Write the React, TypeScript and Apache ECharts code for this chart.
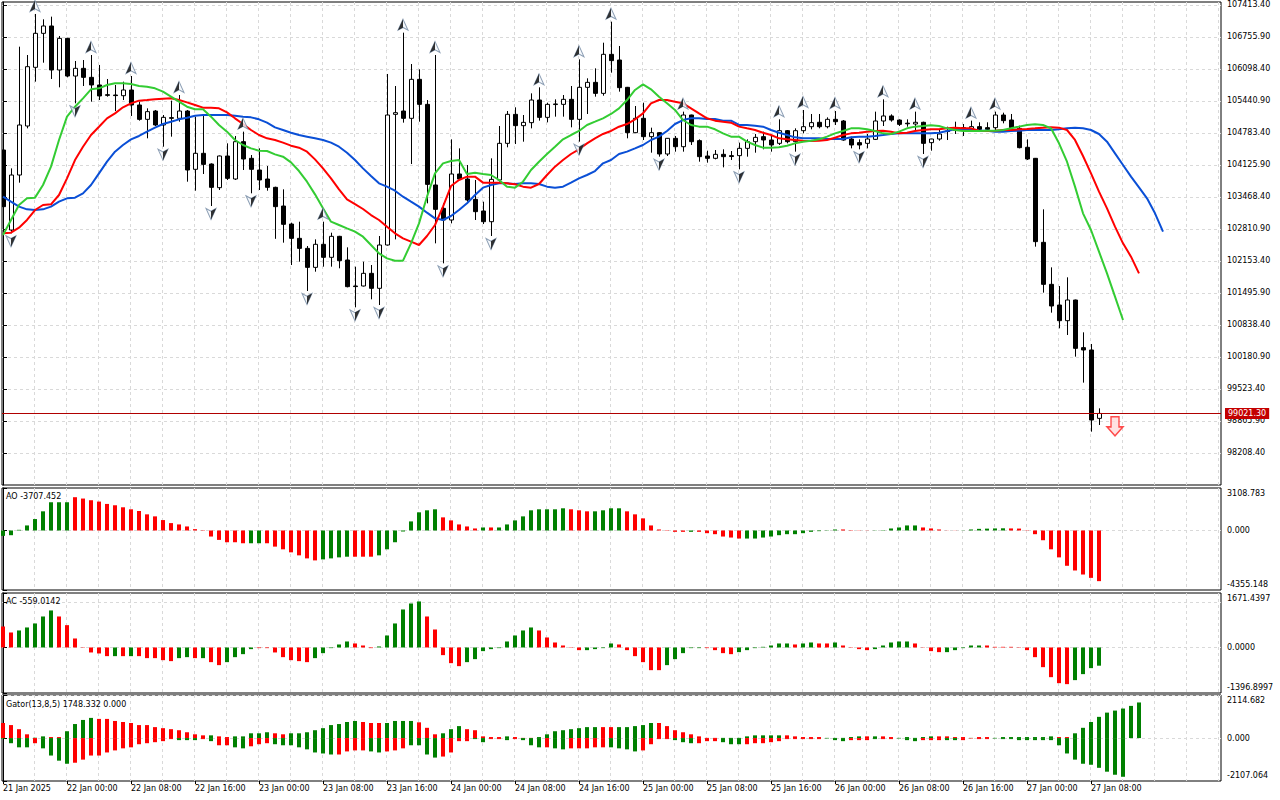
import React, { useEffect, useRef } from 'react';
import * as echarts from 'echarts';

// ---------- DATA ----------
const xLabels = ['21 Jan 2025', '22 Jan 00:00', '22 Jan 08:00', '22 Jan 16:00', '23 Jan 00:00', '23 Jan 08:00', '23 Jan 16:00', '24 Jan 00:00', '24 Jan 08:00', '24 Jan 16:00', '25 Jan 00:00', '25 Jan 08:00', '25 Jan 16:00', '26 Jan 00:00', '26 Jan 08:00', '26 Jan 16:00', '27 Jan 00:00', '27 Jan 08:00'];
const xLabelBars = [0, 8, 16, 24, 32, 40, 48, 56, 64, 72, 80, 88, 96, 104, 112, 120, 128, 136];

const opens = [104434,102790,103920,104927,106133,106831,106982,106078,106728,105954,
106112,105927,105770,105570,105564,105550,105667,105359,105064,105235,
104948,105098,105085,105235,104037,104366,104146,103660,104311,103838,
104605,104263,104023,103838,103667,103283,102913,102619,102413,102023,
102496,102229,102660,102174,101640,101640,101900,101592,102482,105167,
105235,105085,105886,105372,103715,103235,102996,103941,103838,103420,
103181,102961,103818,104571,105167,104934,104996,105461,105105,105372,
105372,105475,105064,105722,105824,105598,106400,106283,105722,104790,
105085,104708,104790,104352,104674,104502,105153,104626,104311,104263,
104345,104318,104318,104468,104605,104708,104639,104571,104831,104605,
104831,104913,105003,104913,105064,105030,104660,104585,104571,104653,
105030,105133,105050,104985,104968,105003,104585,104660,104820,104845,
104893,104872,104914,104893,104893,105153,105050,104879,104489,104263,
102537,101674,101249,100927,101352,100373,100325,98920];

const highs = [104500,104057,106557,106386,107229,107119,107174,106776,106740,106263,
106283,106386,106181,105893,105770,105838,105954,105427,105290,105256,
105153,105448,105564,105256,105119,105153,104160,104320,104571,104722,
104811,104331,104468,104105,103680,103626,102941,102961,102461,102598,
102961,102735,102670,102434,102037,102139,102071,102667,105996,105749,
106845,106201,106092,105461,106386,103338,104653,104468,104126,103818,
103372,104263,104927,105235,105311,105153,105598,105722,105406,105475,
105564,105749,106297,105907,106112,106639,107071,106571,105730,105338,
105406,104893,104800,104680,104722,105222,105160,104653,104420,104434,
104448,104413,104585,104653,104763,104811,104742,105064,104845,104879,
105256,105174,105174,105105,105235,105050,104708,104653,104763,105222,
105475,105167,105064,105064,105222,105016,104665,104845,104913,105016,
104968,105037,105003,105003,105222,105201,105174,104934,104653,104270,
103215,102023,101639,101818,101360,100688,100448,99126];

const lows = [103200,102722,103763,104879,105838,106228,105893,105722,105927,105393,
105749,105427,105461,105530,105235,105461,105133,105037,104674,104927,
104502,104708,105016,103783,103598,103941,103283,103612,103818,103818,
104023,103544,103612,103598,102609,102530,102071,102139,101537,101934,
102037,102037,102003,101612,101201,101630,101366,101249,102470,102598,
104996,104146,105016,103338,102516,102105,102927,103818,103372,102996,
102913,102667,103783,104489,104557,104605,104879,105037,105002,105119,
105119,104900,104605,105174,105530,105550,106023,105633,104674,104780,
104639,104379,104297,104311,104400,104400,104537,104194,104174,104242,
104078,104229,104037,104297,104379,104448,104400,104537,104571,104400,
104776,104859,104879,104879,104948,104626,104468,104448,104468,104639,
104927,105016,104927,104913,104845,104352,104420,104626,104639,104763,
104722,104831,104831,104831,104845,104982,104845,104468,104229,102448,
101503,101092,100770,100633,100188,99654,98647,98784];

const closes = [103270,103920,104948,106146,106831,106982,106078,106728,105954,106112,
105927,105770,105544,105560,105556,105667,105359,105064,105222,104948,
105105,105092,105235,104023,104366,104139,103667,104311,103852,104605,
104249,104037,103818,103667,103270,102907,102619,102413,102023,102496,
102229,102660,102160,101626,101632,101900,101592,102482,105153,105201,
105085,105886,105372,103728,103215,102996,103941,103838,103407,103167,
102961,103831,104571,105167,104934,105002,105461,105105,105372,105380,
105475,105064,105722,105824,105598,106400,106270,105715,104790,105085,
104708,104790,104352,104674,104502,105153,104605,104297,104263,104345,
104297,104300,104468,104605,104694,104640,104537,104831,104605,104831,
104913,104996,104913,105064,105016,104639,104537,104537,104660,105030,
105133,105050,104961,104980,105003,104571,104660,104763,104826,104848,
104890,104914,104859,104859,105153,105037,104893,104482,104249,102551,
101674,101229,100927,101352,100359,100325,98886,99021.3];

// Alligator (read per bar, shifted lines run past the last candle)
const jaw = [103475,103372,103270,103215,103201,103215,103270,103372,103441,103455,103544,103715,103955,104194,104400,104537,104653,104722,104811,104893,104968,105016,105064,105098,105139,105153,105153,105153,105153,105139,105119,105105,
105064,104996,104900,104845,104790,104742,104708,104674,104640,104585,104502,104379,104228,104057,103900,103749,103681,103598,103475,103372,103270,103146,103030,102996,103078,103201,103338,103509,103660,103715,
103749,103749,103735,103749,103749,103735,103681,103660,103681,103763,103852,103920,104002,104160,104228,104352,104400,104468,104537,104640,104708,104825,104968,105050,105085,105085,105071,105071,105037,105037,
104948,104948,104934,104914,104845,104790,104742,104694,104674,104674,104674,104660,104660,104660,104694,104708,104708,104722,104742,104763,104776,104776,104776,104776,104776,104790,104824,104859,104866,104866,
104831,104831,104811,104811,104824,104831,104845,104845,104845,104845,104859,104879,104893,104879,104845,104763,104605,104366,104126,103886,103667,103441,103133,102756];

const teeth = [102722,102735,102838,102996,103201,103304,103318,103509,103852,104228,104502,104742,104913,105085,105187,105311,105393,105448,105461,105475,105489,105496,105461,105413,105359,105304,105304,105290,105208,105085,104968,104845,
104742,104674,104640,104585,104523,104482,104400,104242,104057,103852,103626,103420,103324,103222,103098,102996,102859,102722,102619,102550,102482,102667,102893,103270,103694,103818,103886,103886,103763,103763,
103763,103749,103729,103681,103660,103735,103920,104092,104228,104352,104448,104571,104674,104763,104825,104913,104968,105064,105187,105393,105461,105461,105427,105393,105290,105187,105085,105037,105016,104996,
104914,104879,104845,104790,104742,104674,104653,104640,104626,104619,104626,104640,104687,104742,104776,104790,104811,104824,104831,104811,104776,104790,104824,104845,104859,104859,104879,104893,104879,104879,
104831,104824,104831,104845,104845,104859,104866,104879,104893,104900,104893,104845,104640,104311,103955,103578,103235,102859,102516,102242,101900];

const lips = [102687,102996,103304,103441,103455,103715,104092,104640,105119,105324,105496,105681,105701,105770,105804,105804,105790,105749,105735,105701,105632,105530,105427,105324,105270,105270,105119,104948,104811,104640,104537,104468,
104420,104413,104345,104297,104181,104002,103783,103523,103235,102961,102893,102824,102756,102653,102482,102311,102208,102160,102160,102516,102927,103475,103955,104160,104208,104228,103941,103968,103941,103920,
103818,103681,103660,103783,104023,104194,104352,104502,104653,104742,104825,104948,105016,105085,105174,105290,105461,105667,105783,105681,105530,105393,105256,105050,104948,104914,104914,104859,104776,104708,
104708,104605,104537,104482,104482,104489,104523,104571,104605,104626,104653,104708,104776,104824,104879,104879,104859,104824,104776,104763,104811,104879,104914,104927,104941,104927,104879,104845,104824,104824,
104824,104831,104831,104845,104879,104914,104948,104962,104948,104879,104571,104194,103681,103133,102790,102345,101900,101421,100941];

// Fractal bars
const fractalUp = [4, 11, 16, 22, 30, 40, 50, 54, 67, 72, 76, 85, 97, 100, 104, 110, 114, 121, 124];
const fractalDown = [1, 9, 20, 26, 31, 38, 44, 47, 55, 61, 72, 82, 92, 99, 107, 115];
const sellSignal = [[139, 98757]];

// Awesome Oscillator
const ao = [-394,-345,49,369,836,1402,2066,2066,2066,2435,
2337,2214,2116,1943,1845,1697,1550,1427,1181,1033,
763,541,443,295,98,25,-443,-689,-861,-861,
-935,-935,-935,-935,-1181,-1378,-1599,-1820,-2042,-2189,
-2116,-2042,-1968,-1919,-1919,-1919,-1919,-1820,-1378,-861,
-74,664,1329,1476,1550,960,738,443,295,148,
221,221,221,443,738,1033,1476,1550,1550,1550,
1624,1550,1476,1402,1402,1476,1624,1624,1402,1181,
886,369,74,25,-98,-98,-98,-98,-197,-271,
-443,-517,-590,-590,-590,-517,-443,-345,-271,-271,
-197,-98,-49,-20,74,74,25,-15,12,15,
25,148,221,369,369,221,148,74,10,-10,
12,74,120,135,150,160,150,140,20,-271,
-713,-1378,-1968,-2583,-2927,-3222,-3468,-3707.452];
const aoColor = ['gggggggggr','rrrrrrrrrr','rrrrrrrrrr','rggrrrrrrr','ggggrrrggg','gggggrrrrr','grgggggggg','grrrggggrr','rrrrrrgrrr','rrrggggggg','gggggrrrrg','gggggrrrrr','ggggggrrrr','rrrrrrrr'].join('');

// Accelerator Oscillator
const ac = [644,460,522,614,737,951,1136,951,685,276,
10,-153,-184,-266,-266,-266,-266,-266,-327,-327,
-389,-419,-327,-297,-327,-327,-450,-542,-450,-297,
-205,-51,-20,-20,-153,-297,-389,-419,-450,-327,
-174,-20,92,184,123,61,-20,31,368,737,
1166,1350,1412,951,552,-235,-481,-573,-450,-358,
-112,-51,-20,184,368,522,614,522,307,153,
61,10,-82,-82,-51,-20,123,92,-82,-266,
-450,-696,-696,-542,-358,-174,-20,-20,-20,-82,
-174,-205,-143,-82,-20,20,61,123,123,92,
123,153,123,123,153,61,-10,-51,-82,-51,
61,153,184,184,123,8,-112,-143,-143,-82,
-20,61,61,61,20,20,20,-10,-82,-297,
-604,-911,-1095,-1125,-1002,-818,-634,-559.0142];
const acColor = ['rrgggggrrr','rrrrgrgrrr','rrggrgrrgg','ggrrrrrrrg','ggggrrrggg','gggrrrrrgg','gggggggrrr','rrrggggrrr','rrrgggggrr','rrgggggggr','ggrrgrrrrg','ggggrrrrgg','gggrrrrrrr','rrrrgggg'].join('');

// Gator oscillator
const gatorUp = [739,638,437,185,17,84,50,50,336,689,
890,991,941,941,840,790,739,638,638,538,
487,437,386,286,185,134,134,84,50,84,
84,235,235,286,235,185,235,235,286,386,
487,638,689,790,840,790,739,739,739,840,
840,840,773,504,185,235,437,588,437,386,
84,50,50,84,50,10,10,50,185,336,
386,437,487,538,538,538,538,538,538,588,
638,739,739,588,386,286,185,84,10,10,
10,10,10,84,134,134,134,134,134,84,
50,50,50,10,8,10,50,84,84,84,
84,50,10,50,10,50,84,84,84,50,
50,10,50,50,10,50,50,50,50,50,
50,84,50,50,235,504,790,1042,1250,1350,
1450,1580,1748.332];
const gatorUpColor = ['rrrrggrrgg','ggrrrrrrrr','rrrrrrgrrg','ggggrrgggg','gggggrrrgg','ggrrrgggrr','rrrgrrrggg','gggggrrggg','ggrrrrrrrr','ggggggggrr','rrrgggggrg','rrgggggrrr','rgrrgggggg','ggrrgggggg','ggg'].join('');
const gatorDown = [-30,-252,-454,-454,-252,-504,-857,-1109,-1260,-1210,
-1058,-857,-857,-706,-605,-504,-454,-302,-252,-202,
-151,-50,-101,-101,-101,-50,-151,-353,-353,-454,
-504,-403,-302,-252,-302,-353,-353,-454,-554,-706,
-756,-806,-806,-655,-605,-605,-655,-706,-655,-605,
-504,-353,-353,-806,-958,-907,-706,-151,-151,-50,
-202,-50,-50,-101,-50,-101,-353,-454,-454,-504,
-554,-504,-504,-504,-454,-454,-454,-504,-554,-655,
-605,-302,-50,-50,-101,-202,-252,-252,-151,-151,
-202,-302,-302,-302,-252,-252,-202,-151,-50,-50,
-50,-50,-50,-20,-101,-151,-101,-101,-101,-50,
-50,-50,-20,-101,-151,-101,-101,-101,-101,-101,
-101,-20,-50,-50,-20,-50,-50,-101,-101,-101,
-101,-101,-353,-756,-1058,-1260,-1310,-1460,-1650,-1800,
-1900];
const gatorDownColor = ['ggggrggggr','rrrrrrrrrr','rrgggrgrrg','grrrgggggg','ggrrrrggrr','rggggrrrrg','grrgrgggrg','grrrrrgggg','rrrrgggrrr','gggrrrrrrr','rrrgggrrrg','rrgggrrrgg','rrrrgggggg','gggggggggg','g'].join('');

// Axis ranges
const mainRange = { min: 97550.9, max: 107475, step: 657.5 };
const aoRange = { min: -4355.148, max: 3108.783, dec: 3 };
const acRange = { min: -1396.8997, max: 1671.4397, dec: 4 };
const gatorRange = { min: -2107.064, max: 2114.682, dec: 3 };

// ---------- STYLE ----------
const FONT = 'DejaVu Sans';
const GREEN = '#008000';
const RED = '#ff0000';
const GRIDC = '#d9d9d9';
const X_MIN = -0.125;
const X_MAX = 152.25;

function buildOption(): any {
  const grids = [
    { left: 2, right: 59, top: 2, height: 483 },
    { left: 2, right: 59, top: 488, height: 102 },
    { left: 2, right: 59, top: 593, height: 100 },
    { left: 2, right: 59, top: 695, height: 86 },
  ].map((g) => ({ ...g, show: true, borderColor: '#000', borderWidth: 1, backgroundColor: '#fff' }));

  const splitLine = { show: true, showMinLine: false, showMaxLine: false, lineStyle: { color: GRIDC, type: [3, 3], width: 1 } };

  const xAxis: any[] = [0, 1, 2, 3].map((g) => ({
    type: 'value', gridIndex: g, min: X_MIN, max: X_MAX, interval: 4, position: 'bottom',
    axisLine: { show: false }, axisTick: { show: false }, axisLabel: { show: false }, splitLine,
  }));
  xAxis.push({
    type: 'value', gridIndex: 3, min: X_MIN, max: X_MAX, position: 'bottom',
    axisLine: { show: false },
    axisTick: { show: true, length: 3, lineStyle: { color: '#000' }, customValues: xLabelBars },
    axisLabel: {
      show: true, align: 'left', margin: 3, fontSize: 8, fontFamily: FONT, color: '#000',
      customValues: xLabelBars,
      formatter: (v: number) => xLabels[xLabelBars.indexOf(Math.round(v))] ?? '',
    },
    splitLine: { show: false },
  });

  const labelBase = { fontSize: 8, fontFamily: FONT, color: '#000' };
  const indY = (gridIndex: number, r: { min: number; max: number; dec: number }) => ({
    type: 'value', gridIndex, position: 'right', min: r.min, max: r.max, interval: -r.min,
    axisLine: { show: true, lineStyle: { color: '#000' } },
    axisTick: { show: true, length: 4, lineStyle: { color: '#000' } },
    axisLabel: {
      ...labelBase, margin: 6, showMinLabel: true, showMaxLabel: true,
      formatter: (v: number) => {
        if (Math.abs(v - r.max) < 1e-6) return `{t|${r.max.toFixed(r.dec)}}`;
        if (Math.abs(v - r.min) < 1e-6) return `{b|${r.min.toFixed(r.dec)}}`;
        if (Math.abs(v) < 1e-6) return (0).toFixed(r.dec);
        return '';
      },
      rich: { t: { ...labelBase, padding: [10, 0, 0, 0] }, b: { ...labelBase, padding: [0, 0, 12, 0] } },
    },
    splitLine,
  });

  const yAxis = [
    {
      type: 'value', gridIndex: 0, position: 'right', min: mainRange.min, max: mainRange.max, interval: mainRange.step,
      axisLine: { show: true, lineStyle: { color: '#000' } },
      axisTick: { show: true, length: 4, lineStyle: { color: '#000' } },
      axisLabel: { ...labelBase, margin: 6, showMinLabel: false, showMaxLabel: false, formatter: (v: number) => v.toFixed(2) },
      splitLine,
    },
    indY(1, aoRange),
    indY(2, acRange),
    indY(3, gatorRange),
  ];

  const candleData = opens.map((o, i) => [i, o, closes[i], lows[i], highs[i]]);
  const lastClose = closes[closes.length - 1];

  const renderCandle = (params: any, api: any) => {
    const i = api.value(0);
    const o = api.value(1), c = api.value(2), l = api.value(3), h = api.value(4);
    const p = api.coord([i, o]);
    const x = Math.round(p[0]);
    const yo = p[1];
    const yc = api.coord([i, c])[1];
    const yl = api.coord([i, l])[1];
    const yh = api.coord([i, h])[1];
    const top = Math.min(yo, yc);
    const hgt = Math.max(Math.abs(yo - yc), 0.6);
    const bull = c >= o;
    return {
      type: 'group',
      children: [
        { type: 'line', shape: { x1: x + 0.5, y1: yh, x2: x + 0.5, y2: yl }, style: { stroke: '#000', lineWidth: 1 } },
        { type: 'rect', shape: { x: x - 1.5, y: top, width: 4, height: hgt }, style: { fill: bull ? '#fff' : '#000', stroke: '#000', lineWidth: 1 } },
      ],
    };
  };

  const lineSeries = (data: number[], color: string, extra: any = {}) => ({
    type: 'line', xAxisIndex: 0, yAxisIndex: 0, data: data.map((v, i) => [i, v]),
    showSymbol: false, symbol: 'none', lineStyle: { color, width: 2 }, z: 4, silent: true, ...extra,
  });

  const bars = (grid: number, vals: number[], cols: string, extra: any = {}) => ({
    type: 'bar', xAxisIndex: grid, yAxisIndex: grid, barWidth: 4, barGap: '-100%', silent: true,
    data: vals.map((v, i) => ({ value: [i, v], itemStyle: { color: cols[i] === 'g' ? GREEN : RED } })),
    ...extra,
  });

  const fracSeries = (idx: number[], prices: number[], up: boolean) => {
    const data = idx.map((i) => [i, prices[i]]);
    const dy = up ? -8 : 8;
    return [
      {
        type: 'scatter', xAxisIndex: 0, yAxisIndex: 0, data, silent: true, z: 5,
        symbol: up ? 'path://M5,0 L10,10 L5,7.5 L0,10 Z' : 'path://M0,0 L5,2.5 L10,0 L5,10 Z',
        symbolSize: [10, 11], symbolOffset: [0, dy],
        itemStyle: { color: '#f4f7fb', borderColor: '#6f86a0', borderWidth: 1 },
      },
      {
        type: 'scatter', xAxisIndex: 0, yAxisIndex: 0, data, silent: true, z: 6,
        symbol: up ? 'path://M5,0 L5,7.5 L0,10 Z' : 'path://M5,2.5 L10,0 L5,10 Z',
        symbolSize: [5, 11], symbolOffset: [up ? -2.5 : 2.5, dy],
        itemStyle: { color: '#000' },
      },
    ];
  };

  const titleStyle = { fontSize: 8, fontFamily: FONT, color: '#000', fontWeight: 'normal' as const };

  return {
    animation: false,
    backgroundColor: '#fff',
    textStyle: { fontFamily: FONT },
    title: [
      { text: `AO ${ao[ao.length - 1].toFixed(3)}`, left: 6, top: 492, padding: 0, textStyle: titleStyle },
      { text: `AC ${ac[ac.length - 1].toFixed(4)}`, left: 6, top: 597, padding: 0, textStyle: titleStyle },
      { text: `Gator(13,8,5) ${gatorUp[gatorUp.length - 1].toFixed(3)} ${(0).toFixed(3)}`, left: 6, top: 700, padding: 0, textStyle: titleStyle },
    ],
    grid: grids,
    xAxis,
    yAxis,
    series: [
      {
        type: 'custom', xAxisIndex: 0, yAxisIndex: 0, clip: true, silent: true, z: 3,
        data: candleData, encode: { x: 0, y: [1, 2, 3, 4] }, renderItem: renderCandle,
      },
      lineSeries(jaw, '#0a4fd6', {
        markLine: {
          silent: true, symbol: ['none', 'none'], animation: false,
          data: [{ yAxis: lastClose }],
          lineStyle: { color: '#b00000', width: 1, type: 'solid' },
          label: {
            show: true, position: 'end', distance: 4, formatter: lastClose.toFixed(2),
            backgroundColor: '#c40000', color: '#fff', padding: [2, 3, 1, 3], fontSize: 8, fontFamily: FONT,
          },
        },
      }),
      lineSeries(teeth, '#ff0000'),
      lineSeries(lips, '#33cc33'),
      ...fracSeries(fractalUp, highs, true),
      ...fracSeries(fractalDown, lows, false),
      {
        type: 'scatter', xAxisIndex: 0, yAxisIndex: 0, data: sellSignal, silent: true, z: 6,
        symbol: 'path://M4,0 L12,0 L12,9 L16,9 L8,17 L0,9 L4,9 Z', symbolSize: [16, 19],
        itemStyle: { color: '#ffdada', borderColor: '#ff2020', borderWidth: 1.5 },
      },
      bars(1, ao, aoColor),
      bars(2, ac, acColor),
      bars(3, gatorUp, gatorUpColor),
      bars(3, gatorDown, gatorDownColor),
    ],
  };
}

export default function App() {
  const ref = useRef<HTMLDivElement>(null);
  useEffect(() => {
    if (!ref.current) return;
    const chart = echarts.init(ref.current, null, { renderer: 'svg' });
    chart.setOption(buildOption());
    return () => chart.dispose();
  }, []);
  return (
    <div
      ref={ref}
      style={{ position: 'fixed', left: 0, top: 0, width: 1280, height: 800, background: '#fff' }}
    />
  );
}
